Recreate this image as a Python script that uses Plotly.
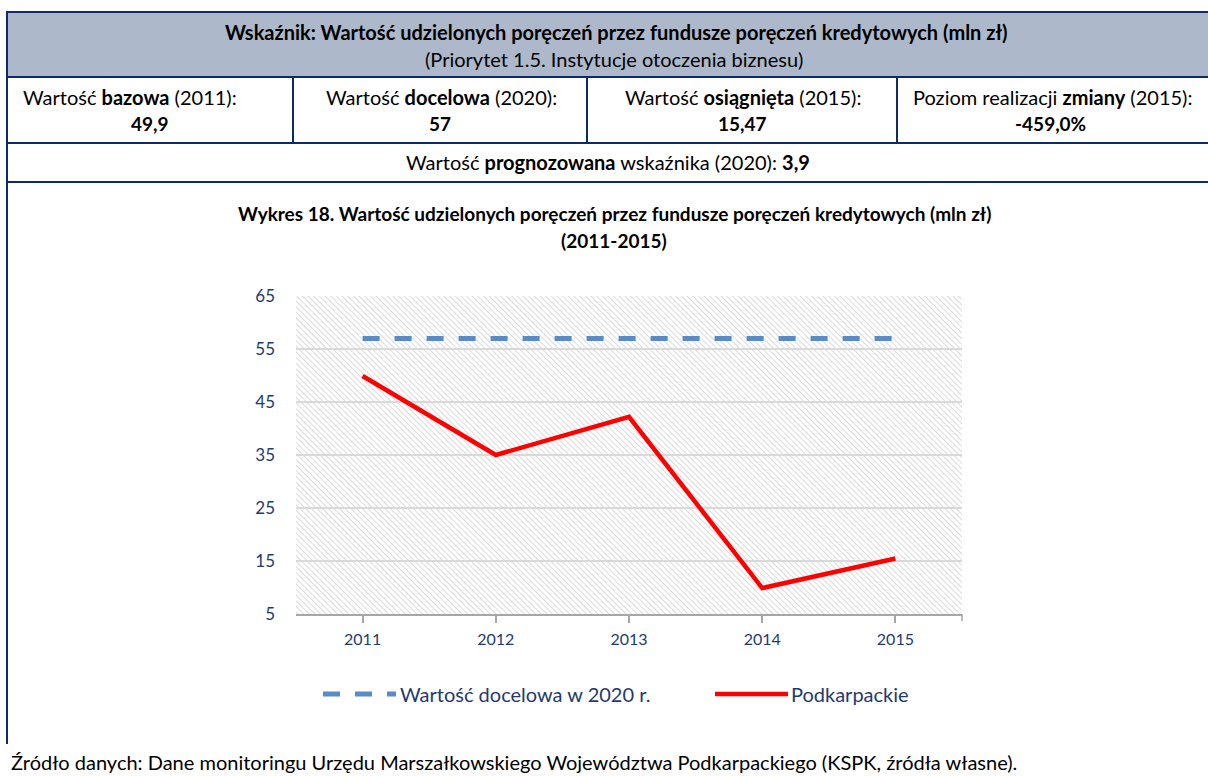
import base64
import plotly.graph_objects as go

# data
years = ["2011", "2012", "2013", "2014", "2015"]
podkarpackie = [49.9, 35.0, 42.2, 9.9, 15.47]
target_2020 = [57, 57, 57, 57, 57]
y_ticks = [5, 15, 25, 35, 45, 55, 65]

W, H = 1208, 776
NAVY = "#1f3a6e"
LINE = "#0f2a6a"
BLUE = "#5b8bc4"
RED = "#ff0000"
FONT = "Lato"

def X(px):
    return px / W

def Y(py):
    return 1 - py / H

# hatched plot background as a small svg
hatch = ('<svg xmlns="http://www.w3.org/2000/svg" width="666" height="318">'
         '<defs><pattern id="p" width="4" height="4" patternUnits="userSpaceOnUse" '
         'patternTransform="rotate(-45)"><line x1="0" y1="0" x2="0" y2="4" '
         'stroke="#d2d2d2" stroke-width="1.6"/></pattern></defs>'
         '<rect width="100%" height="100%" fill="url(#p)"/></svg>')
hatch_uri = "data:image/svg+xml;base64," + base64.b64encode(hatch.encode()).decode()

fig = go.Figure()
fig.add_trace(go.Scatter(x=years, y=target_2020, mode="lines",
                         name="Wartość docelowa w 2020 r.",
                         line=dict(color=BLUE, width=5, dash="17px,15px")))
fig.add_trace(go.Scatter(x=years, y=podkarpackie, mode="lines", name="Podkarpackie",
                         line=dict(color=RED, width=4.5)))

fig.add_layout_image(source=hatch_uri, xref="x domain", yref="y domain", x=0, y=1,
                     sizex=1, sizey=1, sizing="stretch", xanchor="left", yanchor="top",
                     layer="below")

shapes = []
# header table
shapes.append(dict(type="rect", xref="paper", yref="paper", x0=X(7), x1=X(1210), y0=Y(12), y1=Y(77),
                   fillcolor="#adb9ca", line=dict(width=0), layer="below"))
for py in [12, 77, 143, 182]:
    shapes.append(dict(type="line", xref="paper", yref="paper", x0=X(6), x1=X(1210), y0=Y(py), y1=Y(py),
                       line=dict(color=LINE, width=2)))
for px in [293, 587, 897]:
    shapes.append(dict(type="line", xref="paper", yref="paper", x0=X(px), x1=X(px), y0=Y(77), y1=Y(143),
                       line=dict(color=LINE, width=2)))
shapes.append(dict(type="line", xref="paper", yref="paper", x0=X(7), x1=X(7), y0=Y(11), y1=Y(744),
                   line=dict(color=LINE, width=2)))
# end tick on the x axis
shapes.append(dict(type="line", xref="x domain", yref="paper", x0=1, x1=1, y0=Y(614), y1=Y(621),
                   line=dict(color="#a6a6a6", width=1.5)))
# legend samples (drawn by hand, Excel-style long keys)
shapes.append(dict(type="line", xref="paper", yref="paper", x0=X(323), x1=X(396), y0=Y(694), y1=Y(694),
                   line=dict(color=BLUE, width=5, dash="17px,15px")))
shapes.append(dict(type="line", xref="paper", yref="paper", x0=X(715), x1=X(788), y0=Y(694), y1=Y(694),
                   line=dict(color=RED, width=4.5)))

def note(text, px, py, size=20, anchor="center", color="black"):
    return dict(text=text, x=X(px), y=Y(py), xref="paper", yref="paper", showarrow=False,
                xanchor=anchor, yanchor="middle", font=dict(size=size, color=color, family=FONT))

annotations = [
    note("<b>Wskaźnik: Wartość udzielonych poręczeń przez fundusze poręczeń kredytowych (mln zł)</b>", 616, 32),
    note("(Priorytet 1.5. Instytucje otoczenia biznesu)", 614, 59),
    note("Wartość <b>bazowa</b> (2011):", 21, 97, anchor="left"),
    note("<b>49,9</b>", 150, 124, size=19),
    note("Wartość <b>docelowa</b> (2020):", 441, 97),
    note("<b>57</b>", 440, 124, size=19),
    note("Wartość <b>osiągnięta</b> (2015):", 743, 97),
    note("<b>15,47</b>", 742, 124, size=19),
    note("Poziom realizacji <b>zmiany</b> (2015):", 1052, 97),
    note("<b>-459,0%</b>", 1050, 124, size=19),
    note("Wartość <b>prognozowana</b> wskaźnika (2020): <b>3,9</b>", 608, 162),
    note("<b>Wykres 18. Wartość udzielonych poręczeń przez fundusze poręczeń kredytowych (mln zł)</b>",
         614, 213, size=19),
    note("<b>(2011-2015)</b>", 614, 240, size=19),
    note("Wartość docelowa w 2020 r.", 398, 694, color=NAVY, anchor="left"),
    note("Podkarpackie", 789, 694, color=NAVY, anchor="left"),
    note("Źródło danych: Dane monitoringu Urzędu Marszałkowskiego Województwa Podkarpackiego (KSPK, źródła własne).",
         9, 762, anchor="left"),
]

fig.update_layout(
    width=W, height=H, autosize=False,
    margin=dict(l=0, r=0, t=0, b=0),
    paper_bgcolor="white", plot_bgcolor="rgba(0,0,0,0)",
    font=dict(family=FONT, color=NAVY),
    shapes=shapes, annotations=annotations,
    showlegend=False,
    xaxis=dict(domain=[X(296), X(962)], type="category", range=[-0.5, 4.5],
               showgrid=False, showline=True, linecolor="#a6a6a6", linewidth=1.5,
               ticks="outside", ticklen=7, tickcolor="#a6a6a6", tickwidth=1.5,
               tickfont=dict(size=16, color=NAVY), ticklabelstandoff=3, automargin=False),
    yaxis=dict(domain=[Y(614), Y(296)], range=[5, 65], tickvals=y_ticks,
               showgrid=True, gridcolor="#d9d9d9", gridwidth=1.5, zeroline=False,
               showline=False, ticks="", tickfont=dict(size=17, color=NAVY),
               ticklabelstandoff=20, automargin=False),
)

fig.write_html("out.html", config={"displayModeBar": False},
               post_script="document.body.style.margin='0';")
